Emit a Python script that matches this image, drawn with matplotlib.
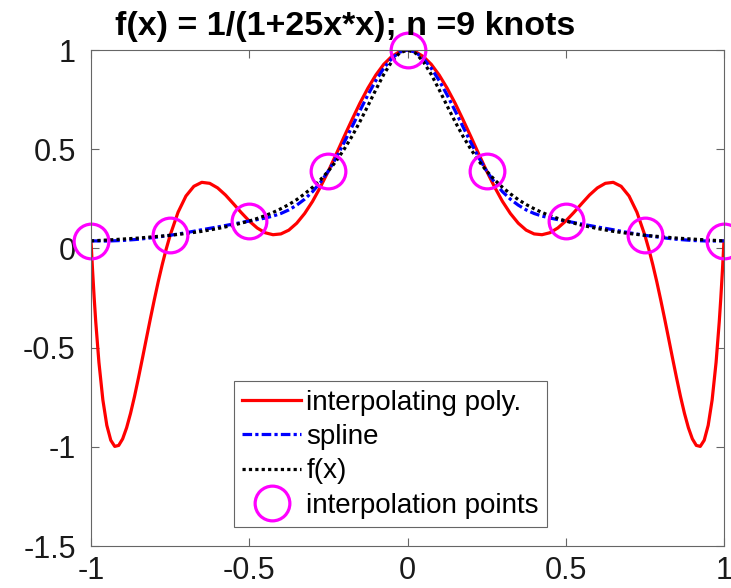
import matplotlib
matplotlib.use("Agg")
import matplotlib.pyplot as plt

plt.rcParams["font.family"] = ["Liberation Sans", "DejaVu Sans"]
plt.rcParams["axes.unicode_minus"] = False

title = "f(x) = 1/(1+25x*x); n =9 knots"

# interpolation knots
knot_x = [-1.0, -0.75, -0.5, -0.25, 0.0, 0.25, 0.5, 0.75, 1.0]
knot_y = [0.038, 0.066, 0.138, 0.390, 1.0, 0.390, 0.138, 0.066, 0.038]

# degree-8 interpolating polynomial
poly_x = [-1.0, -0.995, -0.99, -0.985, -0.975, -0.9625, -0.95, -0.9375, -0.925, -0.9125,
          -0.9, -0.8875, -0.875, -0.8625, -0.85, -0.8375, -0.825, -0.8125, -0.8, -0.7875,
          -0.775, -0.7625, -0.75, -0.725, -0.7, -0.675, -0.65, -0.625, -0.6, -0.575,
          -0.55, -0.525, -0.5, -0.475, -0.45, -0.425, -0.4, -0.375, -0.35, -0.325,
          -0.3, -0.275, -0.25, -0.225, -0.2, -0.175, -0.15, -0.125, -0.1, -0.075,
          -0.05, -0.025, 0.0, 0.025, 0.05, 0.075, 0.1, 0.125, 0.15, 0.175,
          0.2, 0.225, 0.25, 0.275, 0.3, 0.325, 0.35, 0.375, 0.4, 0.425,
          0.45, 0.475, 0.5, 0.525, 0.55, 0.575, 0.6, 0.625, 0.65, 0.675,
          0.7, 0.725, 0.75, 0.7625, 0.775, 0.7875, 0.8, 0.8125, 0.825, 0.8375,
          0.85, 0.8625, 0.875, 0.8875, 0.9, 0.9125, 0.925, 0.9375, 0.95, 0.9625,
          0.975, 0.985, 0.99, 0.995, 1.0]
poly_y = [0.038, -0.112, -0.248, -0.370, -0.574, -0.764, -0.892, -0.967, -0.998, -0.993,
          -0.960, -0.904, -0.831, -0.746, -0.652, -0.554, -0.454, -0.355, -0.259, -0.167,
          -0.082, -0.004, 0.066, 0.182, 0.264, 0.313, 0.333, 0.328, 0.305, 0.269,
          0.225, 0.180, 0.138, 0.103, 0.079, 0.069, 0.073, 0.092, 0.127, 0.176,
          0.237, 0.310, 0.390, 0.476, 0.564, 0.650, 0.733, 0.808, 0.874, 0.928,
          0.967, 0.992, 1.000, 0.992, 0.967, 0.928, 0.874, 0.808, 0.733, 0.650,
          0.564, 0.476, 0.390, 0.310, 0.237, 0.176, 0.127, 0.092, 0.073, 0.069,
          0.079, 0.103, 0.138, 0.180, 0.225, 0.269, 0.305, 0.328, 0.333, 0.313,
          0.264, 0.182, 0.066, -0.004, -0.082, -0.167, -0.259, -0.355, -0.454, -0.554,
          -0.652, -0.746, -0.831, -0.904, -0.960, -0.993, -0.998, -0.967, -0.892, -0.764,
          -0.574, -0.370, -0.248, -0.112, 0.038]

# cubic spline through the knots
spline_x = [-1.0, -0.95, -0.9, -0.85, -0.8, -0.75, -0.7, -0.65, -0.6, -0.55,
            -0.5, -0.475, -0.45, -0.425, -0.4, -0.375, -0.35, -0.325, -0.3, -0.275,
            -0.25, -0.225, -0.2, -0.175, -0.15, -0.125, -0.1, -0.075, -0.05, -0.025,
            0.0, 0.025, 0.05, 0.075, 0.1, 0.125, 0.15, 0.175, 0.2, 0.225,
            0.25, 0.275, 0.3, 0.325, 0.35, 0.375, 0.4, 0.425, 0.45, 0.475,
            0.5, 0.55, 0.6, 0.65, 0.7, 0.75, 0.8, 0.85, 0.9, 0.95, 1.0]
spline_y = [0.038, 0.037, 0.040, 0.046, 0.055, 0.066, 0.079, 0.094, 0.108, 0.123,
            0.138, 0.145, 0.153, 0.163, 0.176, 0.194, 0.218, 0.248, 0.286, 0.333,
            0.390, 0.458, 0.534, 0.614, 0.695, 0.774, 0.846, 0.908, 0.957, 0.989,
            1.000, 0.989, 0.957, 0.908, 0.846, 0.774, 0.695, 0.614, 0.534, 0.458,
            0.390, 0.333, 0.286, 0.248, 0.218, 0.194, 0.176, 0.163, 0.153, 0.145,
            0.138, 0.123, 0.108, 0.094, 0.079, 0.066, 0.055, 0.046, 0.040, 0.037, 0.038]

# f(x)
f_x = [-1.0, -0.95, -0.9, -0.85, -0.8, -0.75, -0.7, -0.65, -0.6, -0.55,
       -0.5, -0.475, -0.45, -0.425, -0.4, -0.375, -0.35, -0.325, -0.3, -0.275,
       -0.25, -0.225, -0.2, -0.175, -0.15, -0.125, -0.1, -0.075, -0.05, -0.025,
       0.0, 0.025, 0.05, 0.075, 0.1, 0.125, 0.15, 0.175, 0.2, 0.225,
       0.25, 0.275, 0.3, 0.325, 0.35, 0.375, 0.4, 0.425, 0.45, 0.475,
       0.5, 0.55, 0.6, 0.65, 0.7, 0.75, 0.8, 0.85, 0.9, 0.95, 1.0]
f_y = [0.038, 0.042, 0.047, 0.052, 0.059, 0.066, 0.075, 0.086, 0.100, 0.117,
       0.138, 0.151, 0.165, 0.181, 0.200, 0.221, 0.246, 0.275, 0.308, 0.346,
       0.390, 0.441, 0.500, 0.566, 0.640, 0.719, 0.800, 0.877, 0.941, 0.985,
       1.000, 0.985, 0.941, 0.877, 0.800, 0.719, 0.640, 0.566, 0.500, 0.441,
       0.390, 0.346, 0.308, 0.275, 0.246, 0.221, 0.200, 0.181, 0.165, 0.151,
       0.138, 0.117, 0.100, 0.086, 0.075, 0.066, 0.059, 0.052, 0.047, 0.042, 0.038]

x_ticks = [-1, -0.5, 0, 0.5, 1]
x_tick_labels = ["-1", "-0.5", "0", "0.5", "1"]
y_ticks = [-1.5, -1, -0.5, 0, 0.5, 1]
y_tick_labels = ["-1.5", "-1", "-0.5", "0", "0.5", "1"]

fig = plt.figure(figsize=(7.31, 5.88), dpi=100)
ax = fig.add_axes([91 / 731, 42 / 588, 633 / 731, 496 / 588])

ax.plot(poly_x, poly_y, color="#ff0000", lw=2.3, label="interpolating poly.")
ax.plot(spline_x, spline_y, color="#0000ff", lw=2.3, ls=(0, (3, 1, 1, 1)), label="spline")
ax.plot(f_x, f_y, color="black", lw=2.3, ls=(0, (1, 1)), label="f(x)")
ax.plot(knot_x, knot_y, ls="none", marker="o", ms=25, mfc="none", mec="#ff00ff",
        mew=2.3, clip_on=False, label="interpolation points")

ax.set_xlim(-1, 1)
ax.set_ylim(-1.5, 1)
ax.set_xticks(x_ticks)
ax.set_xticklabels(x_tick_labels)
ax.set_yticks(y_ticks)
ax.set_yticklabels(y_tick_labels)
ax.tick_params(direction="in", length=6, width=0.8, color="#666666",
               labelsize=22, top=True, right=True, labelcolor="#1a1a1a")
ax.tick_params(axis="y", pad=11)
ax.tick_params(axis="x", pad=7)
for sp in ax.spines.values():
    sp.set_color("#666666")
    sp.set_linewidth(0.8)

ax.set_title(title, fontsize=24.5, fontweight="bold", pad=11, x=0.401)

leg = ax.legend(loc="lower left", bbox_to_anchor=(0.226, 0.038), borderaxespad=0,
                fontsize=20, handlelength=2.1, handletextpad=0.2, labelspacing=0.3,
                borderpad=0.3, fancybox=False, framealpha=1, edgecolor="#666666")
leg.get_frame().set_linewidth(0.8)

fig.savefig("out.png", dpi=100)
